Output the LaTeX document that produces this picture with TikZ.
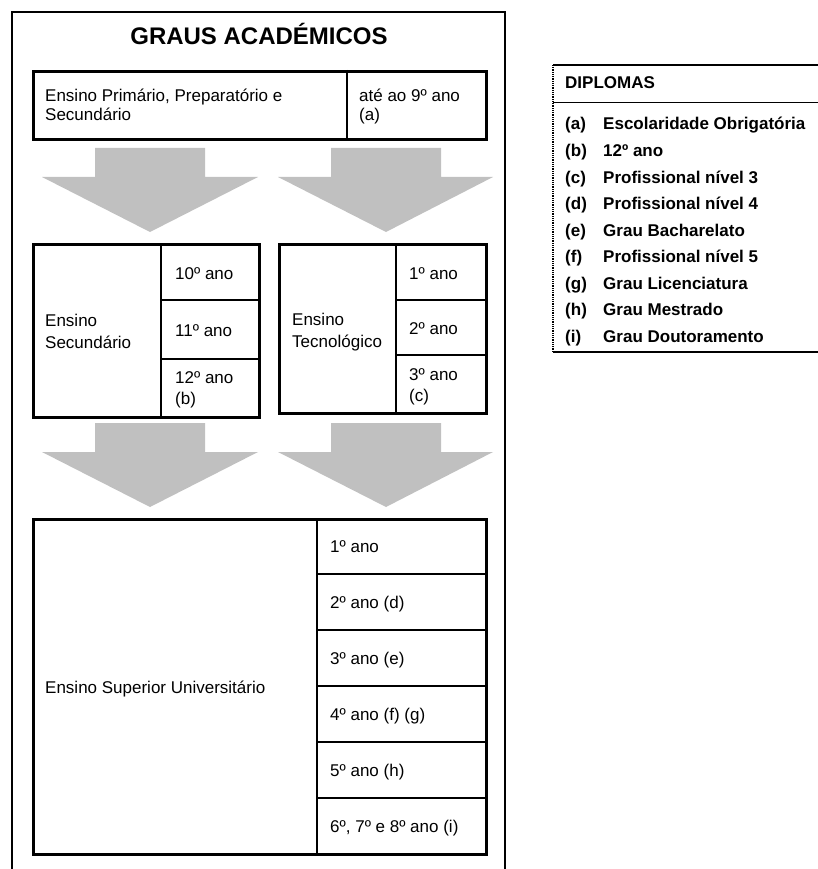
\documentclass[tikz,border=0pt]{standalone}
\usepackage{fontspec}
\setmainfont{Liberation Sans}
\definecolor{arrowgray}{RGB}{192,192,192}
\begin{document}
\begin{tikzpicture}[x=1pt,y=-1pt,
  frame/.style={line width=2.6pt},
  thickbox/.style={draw, line width=3pt, inner sep=0pt, anchor=north west},
  divline/.style={line width=1.6pt},
  legline/.style={line width=1.3pt},
  txt/.style={anchor=base west, inner sep=0pt, font=\fontsize{17}{18}\selectfont},
  btxt/.style={anchor=base west, inner sep=0pt, font=\fontsize{17}{18}\selectfont\bfseries},
  bigarrow/.style={fill=arrowgray, draw=none}]
\useasboundingbox (0,0) rectangle (818,869);

% outer frame (open at the bottom)
\draw[frame] (12,869) -- (12,12) -- (505,12) -- (505,869);

% title
\node[anchor=base, inner sep=0pt, font=\fontsize{24}{26}\selectfont\bfseries] (title) at (259,45) {GRAUS ACADÉMICOS};

% top box
\node[thickbox, minimum width=453pt, minimum height=68pt] (top) at (32,70) {};
\draw[divline] (347,70) -- (347,138);
\node[txt] (t1) at (45,102) {Ensino Primário, Preparatório e};
\node[txt] (t2) at (45,120.5) {Secundário};
\node[txt] (t3) at (359,102) {até ao 9º ano};
\node[txt] (t4) at (359,120.5) {(a)};

% first row of arrows
\fill[bigarrow] (95,148) -- (205,148) -- (205,177) -- (258,177) -- (150,232) -- (42,177) -- (95,177) -- cycle;
\fill[bigarrow] (331,148) -- (441,148) -- (441,177) -- (493,177) -- (386,232) -- (278,177) -- (331,177) -- cycle;

% Ensino Secundario box
\node[thickbox, minimum width=226pt, minimum height=173pt] (sec) at (32,243) {};
\draw[divline] (161,243) -- (161,416);
\draw[divline] (161,300) -- (258,300);
\draw[divline] (161,359) -- (258,359);
\node[txt] (s1) at (45,326) {Ensino};
\node[txt] (s2) at (45,348.5) {Secundário};
\node[txt] (s3) at (175,279.5) {10º ano};
\node[txt] (s4) at (175,336.5) {11º ano};
\node[txt] (s5) at (175,383.5) {12º ano};
\node[txt] (s6) at (175,404.5) {(b)};

% Ensino Tecnologico box
\node[thickbox, minimum width=207pt, minimum height=169pt] (tec) at (278,243) {};
\draw[divline] (396,243) -- (396,412);
\draw[divline] (396,300) -- (485,300);
\draw[divline] (396,355) -- (485,355);
\node[txt] (e1) at (292,325) {Ensino};
\node[txt] (e2) at (292,347) {Tecnológico};
\node[txt] (e3) at (409,279.5) {1º ano};
\node[txt] (e4) at (409,334.5) {2º ano};
\node[txt] (e5) at (409,380) {3º ano};
\node[txt] (e6) at (409,401.5) {(c)};

% second row of arrows
\fill[bigarrow] (95,423) -- (205,423) -- (205,452) -- (258,452) -- (150,507) -- (42,452) -- (95,452) -- cycle;
\fill[bigarrow] (331,423) -- (441,423) -- (441,452) -- (493,452) -- (386,507) -- (278,452) -- (331,452) -- cycle;

% Ensino Superior box
\node[thickbox, minimum width=453pt, minimum height=335pt] (sup) at (32,518) {};
\draw[divline] (317,518) -- (317,853);
\foreach \yy in {574,630,686,742,798} {\draw[divline] (317,\yy) -- (485,\yy);}
\node[txt] (u0) at (45,693) {Ensino Superior Universitário};
\node[txt] (u1) at (330,552.5) {1º ano};
\node[txt] (u2) at (330,608.5) {2º ano (d)};
\node[txt] (u3) at (330,664.5) {3º ano (e)};
\node[txt] (u4) at (330,720.5) {4º ano (f) (g)};
\node[txt] (u5) at (330,776.5) {5º ano (h)};
\node[txt] (u6) at (330,832) {6º, 7º e 8º ano (i)};

% legend
\draw[legline] (553,65) -- (818,65);
\draw[legline] (553,102.5) -- (818,102.5);
\draw[legline] (553,352) -- (818,352);
\draw[legline, dash pattern=on 1pt off 0.8pt] (553,65) -- (553,352);
\node[btxt] (lh) at (565,88.5) {DIPLOMAS};
\foreach \k/\lab/\txt in {0/(a)/Escolaridade Obrigatória, 1/(b)/12º ano, 2/(c)/Profissional nível 3, 3/(d)/Profissional nível 4, 4/(e)/Grau Bacharelato, 5/(f)/Profissional nível 5, 6/(g)/Grau Licenciatura, 7/(h)/Grau Mestrado, 8/(i)/Grau Doutoramento} {
  \node[btxt] (lk\k) at (565,130+26.5*\k) {\lab};
  \node[btxt] (lt\k) at (603,130+26.5*\k) {\txt};
}
\end{tikzpicture}
\end{document}
